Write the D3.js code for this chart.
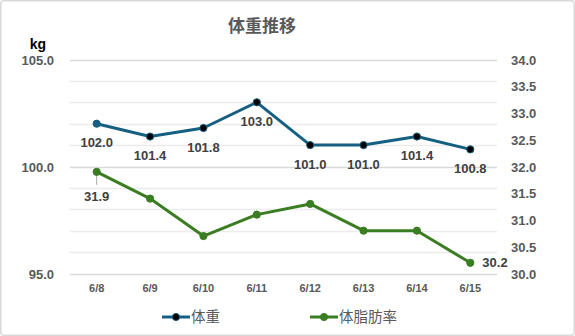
<!DOCTYPE html>
<html>
<head>
<meta charset="utf-8">
<script src="https://cdn.jsdelivr.net/npm/d3@7"></script>
<style>
  html, body { margin: 0; padding: 0; background: #fff; }
  svg { display: block; }
</style>
</head>
<body>
<svg id="chart" width="575" height="336"></svg>
<script>
// Daily log: body weight (kg) and body-fat percentage
const dates = ["6/8", "6/9", "6/10", "6/11", "6/12", "6/13", "6/14", "6/15"];
const weight = [102.0, 101.4, 101.8, 103.0, 101.0, 101.0, 101.4, 100.8];
const bodyFat = [31.9, 31.4, 30.7, 31.1, 31.3, 30.8, 30.8, 30.2];
const weightTicks = [95, 100, 105];
const weightGrid = [95, 96, 97, 98, 99, 100, 101, 102, 103, 104, 105];
const fatTicks = [30, 30.5, 31, 31.5, 32, 32.5, 33, 33.5, 34];
const seriesNames = ["体重", "体脂肪率"];

const W = 575, H = 336;
const margin = { left: 70, right: 78, top: 59.5, bottom: 62.5 };
const blue = "#156082", green = "#3a7d22", textGray = "#595959";
const font = "'Liberation Sans', Arial, sans-serif";
const cjk = "'Noto Sans CJK JP', 'Noto Sans', sans-serif";

const svg = d3.select("#chart");

// chart frame
svg.append("rect")
  .attr("x", 0.75).attr("y", 0.75)
  .attr("width", W - 1.5).attr("height", H - 1.5)
  .attr("rx", 3)
  .attr("fill", "#fff").attr("stroke", "#d9d9d9").attr("stroke-width", 1.5);

const x = d3.scaleBand().domain(dates).range([margin.left, W - margin.right]);
const yW = d3.scaleLinear().domain([95, 105]).range([H - margin.bottom, margin.top]);
const yF = d3.scaleLinear().domain([30, 34]).range([H - margin.bottom, margin.top]);
const cx = d => x(d) + x.bandwidth() / 2;

// gridlines (1 kg steps, stronger at labelled values)
svg.append("g").selectAll("line").data(weightGrid).join("line")
  .attr("x1", margin.left).attr("x2", W - margin.right)
  .attr("y1", d => Math.round(yW(d)) + 0.5).attr("y2", d => Math.round(yW(d)) + 0.5)
  .attr("stroke", d => weightTicks.includes(d) ? "#d9d9d9" : "#ececec")
  .attr("stroke-width", 1.3);

// left axis (weight)
const axL = svg.append("g")
  .attr("transform", `translate(${margin.left - 16},0)`)
  .call(d3.axisLeft(yW).tickValues(weightTicks).tickFormat(d3.format(".1f")).tickSize(0).tickPadding(0));
axL.select(".domain").remove();
axL.selectAll("text").attr("font-family", font).attr("font-size", 13)
  .attr("font-weight", "bold").attr("fill", textGray).attr("dy", "0.36em");

// right axis (body fat)
const axR = svg.append("g")
  .attr("transform", `translate(${W - margin.right + 14},0)`)
  .call(d3.axisRight(yF).tickValues(fatTicks).tickFormat(d3.format(".1f")).tickSize(0).tickPadding(0));
axR.select(".domain").remove();
axR.selectAll("text").attr("font-family", font).attr("font-size", 13)
  .attr("font-weight", "bold").attr("fill", textGray).attr("dy", "0.36em");

// category axis
const axB = svg.append("g")
  .attr("transform", `translate(0,${H - margin.bottom + 11})`)
  .call(d3.axisBottom(x).tickSize(0).tickPadding(0));
axB.select(".domain").remove();
axB.selectAll("text").attr("font-family", font).attr("font-size", 11)
  .attr("font-weight", "bold").attr("fill", textGray).attr("dy", "0.71em");

// title and unit
svg.append("text").attr("x", 262).attr("y", 32).attr("text-anchor", "middle")
  .attr("font-family", cjk).attr("font-size", 17).attr("font-weight", "bold")
  .attr("fill", textGray).text("体重推移");
svg.append("text").attr("x", 38).attr("y", 49).attr("text-anchor", "middle")
  .attr("font-family", font).attr("font-size", 14).attr("font-weight", "bold")
  .attr("fill", "#000").text("kg");

// series lines
const wData = dates.map((d, i) => ({ d, v: weight[i], i }));
const fData = dates.map((d, i) => ({ d, v: bodyFat[i], i }));

svg.append("path").datum(wData)
  .attr("d", d3.line().x(p => cx(p.d)).y(p => yW(p.v)))
  .attr("fill", "none").attr("stroke", blue).attr("stroke-width", 3).attr("stroke-linejoin", "round");
svg.append("path").datum(fData)
  .attr("d", d3.line().x(p => cx(p.d)).y(p => yF(p.v)))
  .attr("fill", "none").attr("stroke", green).attr("stroke-width", 3).attr("stroke-linejoin", "round");

// leader line for the first body-fat label
svg.append("line")
  .attr("x1", cx(dates[0])).attr("x2", cx(dates[0]))
  .attr("y1", yF(bodyFat[0]) + 3).attr("y2", yF(bodyFat[0]) + 13)
  .attr("stroke", "#a6a6a6").attr("stroke-width", 1);

// markers
svg.append("g").selectAll("circle").data(wData).join("circle")
  .attr("cx", p => cx(p.d)).attr("cy", p => yW(p.v)).attr("r", 3.6)
  .attr("fill", p => p.i === 0 ? blue : "#000").attr("stroke", blue).attr("stroke-width", 1);
svg.append("g").selectAll("circle").data(fData).join("circle")
  .attr("cx", p => cx(p.d)).attr("cy", p => yF(p.v)).attr("r", 3.6)
  .attr("fill", green).attr("stroke", green).attr("stroke-width", 1);

// data labels
const fmt = d3.format(".1f");
svg.append("g").selectAll("text").data(wData).join("text")
  .attr("x", p => cx(p.d)).attr("y", p => yW(p.v) + 19).attr("dy", "0.36em")
  .attr("text-anchor", "middle").attr("font-family", font).attr("font-size", 13)
  .attr("font-weight", "bold").attr("fill", "#404040").text(p => fmt(p.v));
const fFirst = fData[0], fLast = fData[fData.length - 1];
svg.append("text").attr("x", cx(fFirst.d)).attr("y", yF(fFirst.v) + 24).attr("dy", "0.36em")
  .attr("text-anchor", "middle").attr("font-family", font).attr("font-size", 13)
  .attr("font-weight", "bold").attr("fill", "#404040").text(fmt(fFirst.v));
svg.append("text").attr("x", cx(fLast.d) + 12).attr("y", yF(fLast.v)).attr("dy", "0.36em")
  .attr("text-anchor", "start").attr("font-family", font).attr("font-size", 13)
  .attr("font-weight", "bold").attr("fill", "#404040").text(fmt(fLast.v));

// legend
const legend = [
  { name: seriesNames[0], color: blue, fill: "#000", x: 162 },
  { name: seriesNames[1], color: green, fill: green, x: 310 }
];
const lg = svg.append("g").selectAll("g").data(legend).join("g")
  .attr("transform", l => `translate(${l.x},317)`);
lg.append("line").attr("x1", 0).attr("x2", 28).attr("y1", 0).attr("y2", 0)
  .attr("stroke", l => l.color).attr("stroke-width", 3);
lg.append("circle").attr("cx", 14).attr("cy", 0).attr("r", 3.6)
  .attr("fill", l => l.fill).attr("stroke", l => l.color).attr("stroke-width", 1);
lg.append("text").attr("x", 29).attr("y", 0).attr("dy", "0.36em")
  .attr("font-family", cjk).attr("font-size", 14.5).attr("fill", textGray)
  .text(l => l.name);
</script>
</body>
</html>
